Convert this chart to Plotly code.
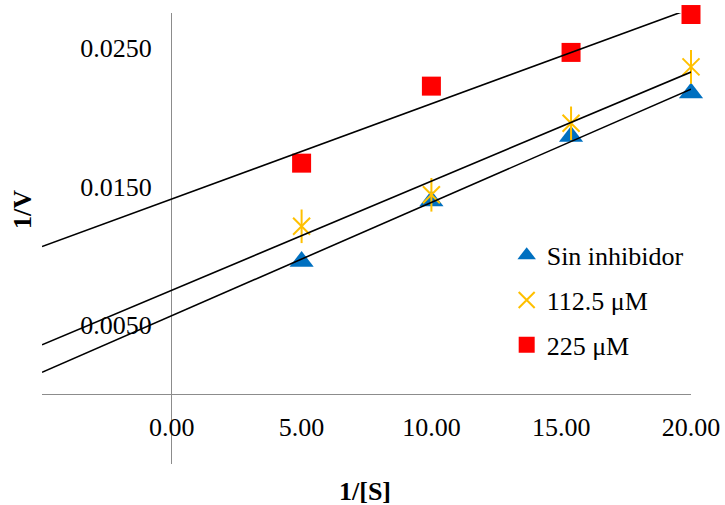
import numpy as np
import plotly.graph_objects as go

# 1/[S] values and 1/V for each inhibitor concentration
inv_s = [5.0, 10.0, 15.38, 20.0]
v_sin = [0.00959, 0.01395, 0.01860, 0.02173]
v_112 = [0.01213, 0.01440, 0.01955, 0.02362]
v_225 = [0.01668, 0.02223, 0.02466, 0.02739]

series_names = ["Sin inhibidor", "112.5 μM", "225 μM"]
x_ticks = [0, 5, 10, 15, 20]
x_ticktext = ["0.00", "5.00", "10.00", "15.00", "20.00"]
y_ticks = [0.005, 0.015, 0.025]
y_ticktext = ["0.0050", "0.0150", "0.0250"]

X_MIN, X_MAX = -5, 20
Y_MIN, Y_MAX = -0.005, 0.0275

FONT = "Liberation Serif"
FS = 26

fig = go.Figure()

# markers
fig.add_trace(go.Scatter(
    x=inv_s, y=v_sin, mode="markers", name=series_names[0], legendgroup="a",
    marker=dict(symbol="triangle-up", size=21, color="#0070C0"), cliponaxis=False))
fig.add_trace(go.Scatter(
    x=inv_s, y=v_112, mode="markers", name=series_names[1], legendgroup="b",
    marker=dict(symbol="x-thin-open", size=17, color="#FFC000",
                line=dict(color="#FFC000", width=2)), cliponaxis=False))
fig.add_trace(go.Scatter(
    x=inv_s, y=v_112, mode="markers", showlegend=False, legendgroup="b",
    marker=dict(symbol="line-ns-open", size=24, color="#FFC000",
                line=dict(color="#FFC000", width=2)), cliponaxis=False, hoverinfo="skip"))
fig.add_trace(go.Scatter(
    x=inv_s, y=v_225, mode="markers", name=series_names[2], legendgroup="c",
    marker=dict(symbol="square", size=19, color="#FF0000"), cliponaxis=False))

# linear trendlines, extended back to the left edge
for ys in (v_sin, v_112, v_225):
    m, b = np.polyfit(inv_s, ys, 1)
    xs = np.array([X_MIN, max(inv_s)])
    fig.add_trace(go.Scatter(
        x=xs, y=m * xs + b, mode="lines", showlegend=False,
        line=dict(color="black", width=1.6), hoverinfo="skip"))

fig.update_layout(
    width=725, height=505,
    margin=dict(l=42, r=34, t=13, b=41, autoexpand=False),
    paper_bgcolor="white", plot_bgcolor="white",
    font=dict(family=FONT, size=FS, color="black"),
    showlegend=True,
    legend=dict(
        x=0.716, y=0.515, xanchor="left", yanchor="top",
        traceorder="grouped", tracegroupgap=8,
        bgcolor="rgba(0,0,0,0)", font=dict(family=FONT, size=FS),
        itemwidth=30,
    ),
    xaxis=dict(
        range=[X_MIN, X_MAX], showgrid=False, showline=False, automargin=False,
        zeroline=True, zerolinecolor="#8c8c8c", zerolinewidth=1.3,
        tickvals=x_ticks, ticktext=x_ticktext, ticks="",
        anchor="free", position=(0 - Y_MIN) / (Y_MAX - Y_MIN),
        ticklabelstandoff=14,
    ),
    yaxis=dict(
        range=[Y_MIN, Y_MAX], showgrid=False, showline=False, automargin=False,
        zeroline=True, zerolinecolor="#8c8c8c", zerolinewidth=1.3,
        tickvals=y_ticks, ticktext=y_ticktext, ticks="",
        anchor="free", position=(0 - X_MIN) / (X_MAX - X_MIN),
        ticklabelstandoff=20,
    ),
    annotations=[
        dict(text="<b>1/V</b>", textangle=-90, xref="paper", yref="paper",
             x=-0.031, y=0.565, xanchor="center", yanchor="middle",
             showarrow=False, font=dict(family=FONT, size=FS)),
        dict(text="<b>1/[S]</b>", xref="paper", yref="paper",
             x=0.498, y=-0.062, xanchor="center", yanchor="middle",
             showarrow=False, font=dict(family=FONT, size=FS)),
    ],
)

fig.write_html("out.html")
